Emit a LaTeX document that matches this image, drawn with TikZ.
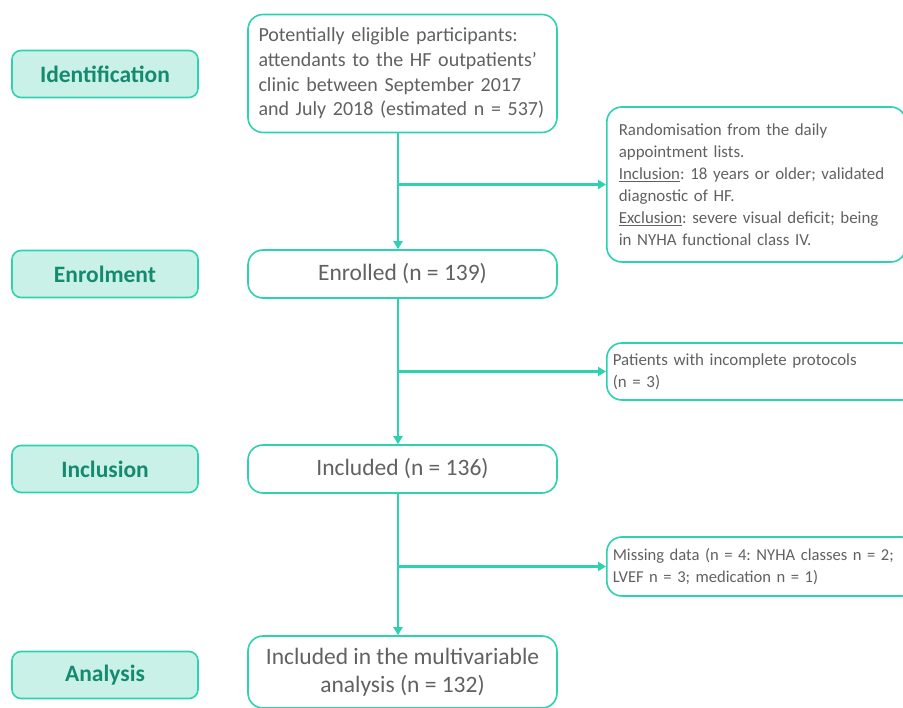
\documentclass[tikz,border=0pt]{standalone}
\usepackage{fontspec}
\setmainfont{Carlito}
\usetikzlibrary{arrows.meta,positioning}
\definecolor{Teal}{HTML}{2DD2B0}
\definecolor{Mint}{HTML}{C9F1E8}
\definecolor{DarkTeal}{HTML}{168A70}
\definecolor{Grey}{HTML}{616161}
\frenchspacing
\tikzset{
  stage/.style={draw=Teal,fill=Mint,line width=1.6pt,rounded corners=9pt,
    minimum width=186pt,minimum height=47pt,font=\fontsize{23.5}{27}\selectfont\bfseries,text=DarkTeal},
  flowbox/.style={draw=Teal,fill=white,line width=1.6pt,rounded corners=15pt,
    minimum width=309pt,text=Grey,align=center,font=\fontsize{23.5}{28}\selectfont},
  sidebox/.style={draw=Teal,fill=white,line width=1.6pt,rounded corners=15pt,
    text=Grey,align=left,anchor=west,font=\fontsize{16.9}{22}\selectfont},
  arr/.style={draw=Teal,line width=2.8pt,-{Triangle[length=8pt,width=9pt]}}
}
\begin{document}
\begin{tikzpicture}[x=1pt,y=-1pt]
  \useasboundingbox (0,0) rectangle (903,708);
  \clip (0,0) rectangle (903,708);
  % stages on the left
  \node[stage] (ident) at (105,74) {Identification};
  \node[stage] (enrolstage) at (105,274) {Enrolment};
  \node[stage] (inclstage) at (105,469) {Inclusion};
  \node[stage] (anastage) at (105,675) {Analysis};
  % main flow
  \node[flowbox,minimum height=118pt,align=left,text width=288pt,inner xsep=10.5pt,
    font=\fontsize{20}{24.6}\selectfont] (eligible) at (402.5,73.5)
    {Potentially eligible participants:\\attendants to the HF outpatients'\\clinic between September 2017\\and July 2018 (estimated n = 537)};
  \node[flowbox,minimum height=48pt] (enrolled) at (402.5,274) {Enrolled (n = 139)};
  \node[flowbox,minimum height=48pt] (included) at (402.5,469) {Included (n = 136)};
  \node[flowbox,minimum height=72pt] (analysed) at (402.5,672)
    {Included in the multivariable\\analysis (n = 132)};
  % side boxes
  \node[sidebox,minimum width=296pt,minimum height=155pt,text width=275pt,inner xsep=12pt] (rand) at (606,184.5)
    {Randomisation from the daily\\appointment lists.\\\underline{Inclusion}: 18 years or older; validated\\diagnostic of HF.\\\underline{Exclusion}: severe visual deficit; being\\in NYHA functional class IV.};
  \node[sidebox,minimum width=310pt,minimum height=57pt,text width=298pt,inner xsep=6pt] (incomplete) at (606,371.5)
    {Patients with incomplete protocols\\(n = 3)};
  \node[sidebox,minimum width=310pt,minimum height=59pt,text width=298pt,inner xsep=6pt,
    font=\fontsize{16.6}{22}\selectfont] (missing) at (606,566.5)
    {Missing data (n = 4: NYHA classes n = 2;\\LVEF n = 3; medication n = 1)};
  % connectors
  \coordinate (spine) at (398,0);
  \draw[arr] (eligible.south -| spine) -- (enrolled.north -| spine);
  \draw[arr] (spine |- rand.west) -- (rand.west);
  \draw[arr] (enrolled.south -| spine) -- (included.north -| spine);
  \draw[arr] (spine |- incomplete.west) -- (incomplete.west);
  \draw[arr] (included.south -| spine) -- (analysed.north -| spine);
  \draw[arr] (spine |- missing.west) -- (missing.west);
\end{tikzpicture}
\end{document}
